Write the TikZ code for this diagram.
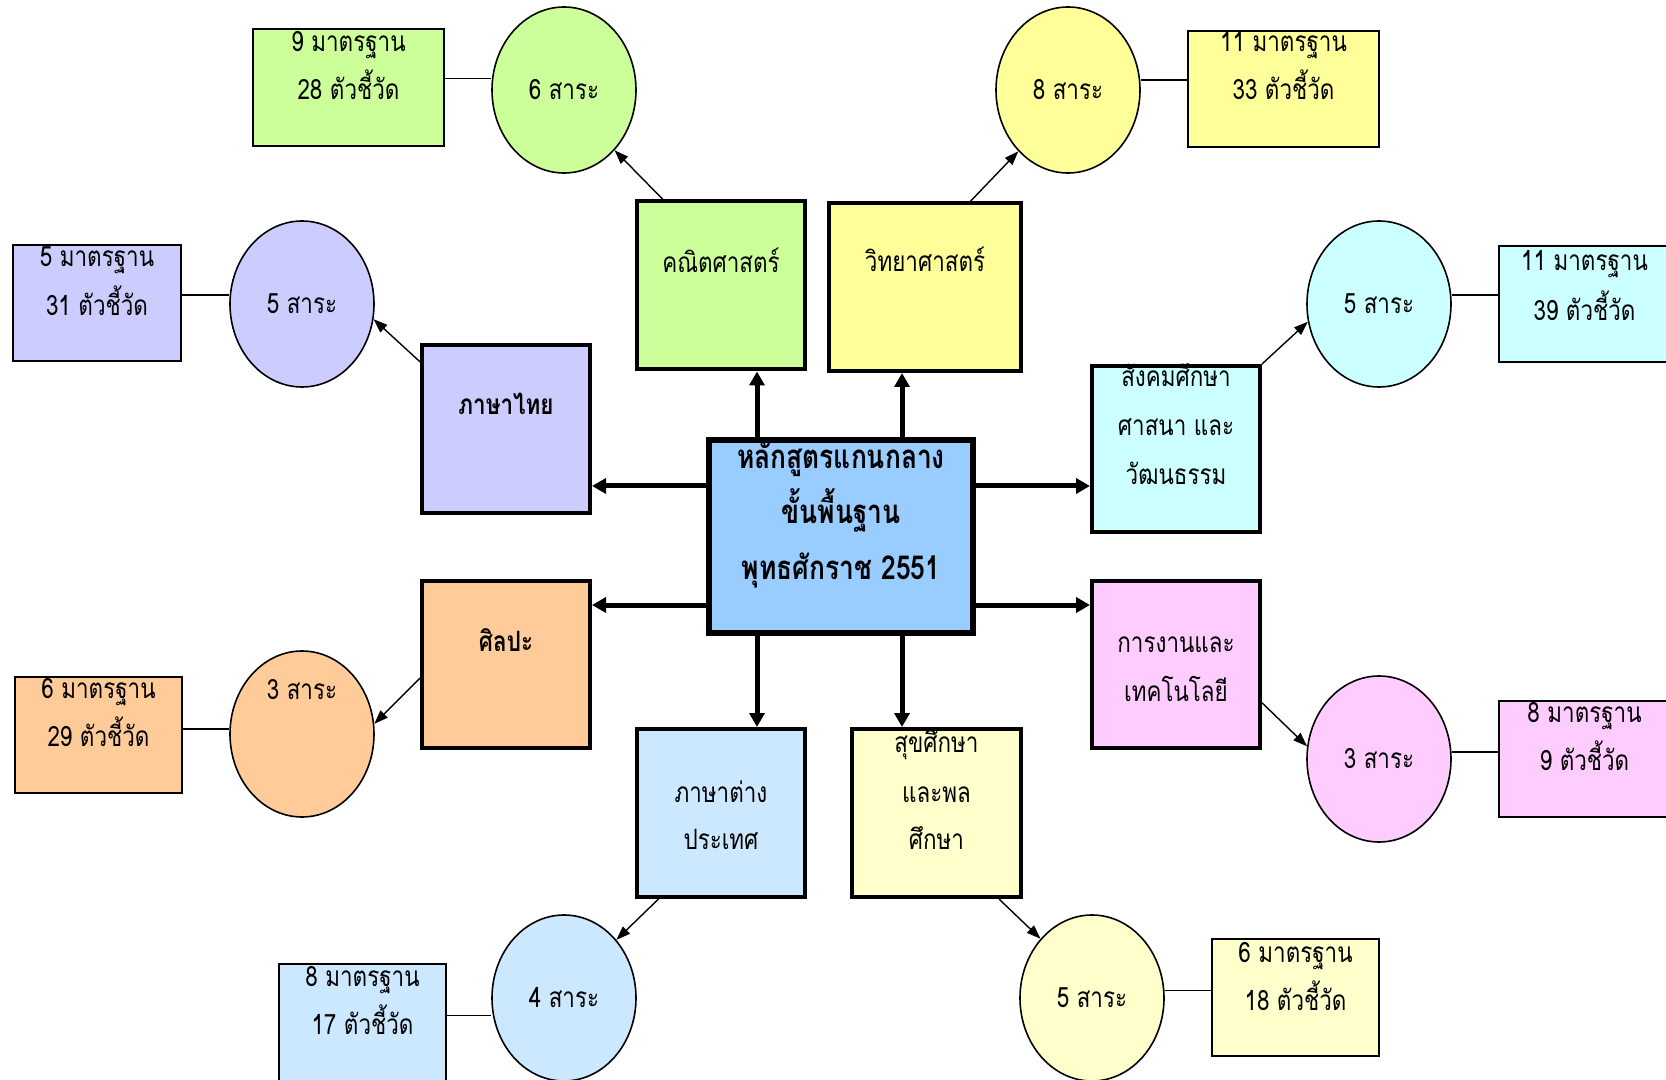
\documentclass[tikz,border=0pt]{standalone}
\usepackage{fontspec}
\newfontfamily\thaifont[Script=Thai,FakeStretch=0.8]{Loma}
\usetikzlibrary{shapes.geometric,arrows.meta,calc}
\definecolor{cMath}{HTML}{CCFF99}
\definecolor{cSci}{HTML}{FFFF99}
\definecolor{cThai}{HTML}{CCCCFF}
\definecolor{cSoc}{HTML}{CCFFFF}
\definecolor{cArts}{HTML}{FFCC99}
\definecolor{cTech}{HTML}{FFCCFF}
\definecolor{cFor}{HTML}{CCE8FF}
\definecolor{cHealth}{HTML}{FFFFCC}
\definecolor{cCenter}{HTML}{99CCFF}
\tikzset{
  subjbox/.style={draw=black, line width=2pt, rectangle, inner sep=0pt, minimum width=84pt, minimum height=84pt},
  stdbox/.style={draw=black, line width=0.8pt, rectangle, inner sep=0pt},
  ell/.style={draw=black, line width=0.8pt, ellipse, inner sep=0pt, minimum width=72pt, minimum height=83pt, font=\thaifont\fontsize{14}{16}\selectfont},
  tx/.style={inner sep=0pt, anchor=base, yshift=-6pt, font=\thaifont\fontsize{14}{16}\selectfont},
  txb/.style={inner sep=0pt, anchor=base, yshift=-6pt, font=\thaifont\bfseries\fontsize{14}{16}\selectfont},
  txc/.style={inner sep=0pt, anchor=base, yshift=-7pt, font=\thaifont\bfseries\fontsize{16.5}{18}\selectfont},
  bigarrow/.style={line width=2.5pt, -{Triangle[length=7pt,width=7.5pt]}},
  thinarrow/.style={line width=0.7pt, -{Triangle[length=7pt,width=5pt]}},
  link/.style={line width=0.8pt}
}
\begin{document}
\begin{tikzpicture}[x=0.5pt,y=-0.5pt]
\path[use as bounding box, clip] (0,0) rectangle (1666,1080);
\fill[white] (0,0) rectangle (1666,1080);

% center
\node[draw=black, line width=2.8pt, fill=cCenter, inner sep=0pt, minimum width=132pt, minimum height=96.5pt] (center) at (841,536.5) {};
\node[txc] (c1) at ($(center.north)+(0,17)$) {หลักสูตรแกนกลาง};
\node[txc] (c2) at ($(center.north)+(0,72)$) {ขั้นพื้นฐาน};
\node[txc] (c3) at ($(center.north)+(0,128)$) {พุทธศักราช 2551};

% subject boxes
\node[subjbox, fill=cMath] (mathbox) at (721,285.5) {};
\node[tx] (mathtx) at ($(mathbox.north)+(0,61)$) {คณิตศาสตร์};
\node[subjbox, fill=cSci, minimum width=96pt] (scibox) at (925,287) {};
\node[tx] (scitx) at ($(scibox.north)+(0,59)$) {วิทยาศาสตร์};
\node[subjbox, fill=cThai] (thaibox) at (506,429) {};
\node[txb] (thaitx) at ($(thaibox.north)+(0,60)$) {ภาษาไทย};
\node[subjbox, fill=cSoc, minimum height=83pt] (socbox) at (1176,449) {};
\node[tx] (soctx1) at ($(socbox.north)+(0,11)$) {สังคมศึกษา};
\node[tx] (soctx2) at ($(socbox.north)+(0,60)$) {ศาสนา และ};
\node[tx] (soctx3) at ($(socbox.north)+(0,109)$) {วัฒนธรรม};
\node[subjbox, fill=cArts, minimum height=83.5pt] (artsbox) at (506,664.5) {};
\node[txb] (artstx) at ($(artsbox.north)+(0,60)$) {ศิลปะ};
\node[subjbox, fill=cTech, minimum height=83.5pt] (techbox) at (1176,664.5) {};
\node[tx] (techtx1) at ($(techbox.north)+(0,61)$) {การงานและ};
\node[tx] (techtx2) at ($(techbox.north)+(0,110)$) {เทคโนโลยี};
\node[subjbox, fill=cFor] (forbox) at (721,813) {};
\node[tx] (fortx1) at ($(forbox.north)+(0,63)$) {ภาษาต่าง};
\node[tx] (fortx2) at ($(forbox.north)+(0,110)$) {ประเทศ};
\node[subjbox, fill=cHealth, minimum width=84.5pt] (healthbox) at (936.5,813) {};
\node[tx] (healthtx1) at ($(healthbox.north)+(0,13)$) {สุขศึกษา};
\node[tx] (healthtx2) at ($(healthbox.north)+(0,63)$) {และพล};
\node[tx] (healthtx3) at ($(healthbox.north)+(0,110)$) {ศึกษา};

% ellipses
\node[ell, fill=cMath] (mathell) at (564,90) {6 สาระ};
\node[ell, fill=cSci] (sciell) at (1068,90) {8 สาระ};
\node[ell, fill=cThai] (thaiell) at (302,304) {5 สาระ};
\node[ell, fill=cSoc] (socell) at (1379,304) {5 สาระ};
\node[ell, fill=cArts] (artsell) at (302,734) {};
\node[tx] (artselltx) at ($(artsell.center)+(0,-47)$) {3 สาระ};
\node[ell, fill=cTech] (techell) at (1379,759) {3 สาระ};
\node[ell, fill=cFor] (forell) at (564,998) {4 สาระ};
\node[ell, fill=cHealth] (healthell) at (1092,998) {5 สาระ};

% standard boxes
\node[stdbox, fill=cMath, minimum width=95.5pt, minimum height=58.5pt] (mathstd) at (348.5,87.5) {};
\node[tx] (mathstd1) at ($(mathstd.north)+(0,11)$) {9 มาตรฐาน};
\node[tx] (mathstd2) at ($(mathstd.north)+(0,59)$) {28 ตัวชี้วัด};
\node[stdbox, fill=cSci, minimum width=95.5pt, minimum height=58pt] (scistd) at (1283.5,89) {};
\node[tx] (scistd1) at ($(scistd.north)+(0,9)$) {11 มาตรฐาน};
\node[tx] (scistd2) at ($(scistd.north)+(0,57)$) {33 ตัวชี้วัด};
\node[stdbox, fill=cThai, minimum width=84pt, minimum height=58pt] (thaistd) at (97,303) {};
\node[tx] (thaistd1) at ($(thaistd.north)+(0,10)$) {5 มาตรฐาน};
\node[tx] (thaistd2) at ($(thaistd.north)+(0,59)$) {31 ตัวชี้วัด};
\node[stdbox, fill=cSoc, minimum width=85.5pt, minimum height=58pt] (socstd) at (1584.5,304) {};
\node[tx] (socstd1) at ($(socstd.north)+(0,13)$) {11 มาตรฐาน};
\node[tx] (socstd2) at ($(socstd.north)+(0,63)$) {39 ตัวชี้วัด};
\node[stdbox, fill=cArts, minimum width=83.5pt, minimum height=58pt] (artsstd) at (98.5,735) {};
\node[tx] (artsstd1) at ($(artsstd.north)+(0,10)$) {6 มาตรฐาน};
\node[tx] (artsstd2) at ($(artsstd.north)+(0,58)$) {29 ตัวชี้วัด};
\node[stdbox, fill=cTech, minimum width=85.5pt, minimum height=58pt] (techstd) at (1584.5,759) {};
\node[tx] (techstd1) at ($(techstd.north)+(0,10)$) {8 มาตรฐาน};
\node[tx] (techstd2) at ($(techstd.north)+(0,58)$) {9 ตัวชี้วัด};
\node[stdbox, fill=cFor, minimum width=83.5pt, minimum height=60.5pt] (forstd) at (362.5,1024.5) {};
\node[tx] (forstd1) at ($(forstd.north)+(0,11)$) {8 มาตรฐาน};
\node[tx] (forstd2) at ($(forstd.north)+(0,59)$) {17 ตัวชี้วัด};
\node[stdbox, fill=cHealth, minimum width=83.5pt, minimum height=58.5pt] (healthstd) at (1295.5,997.5) {};
\node[tx] (healthstd1) at ($(healthstd.north)+(0,12)$) {6 มาตรฐาน};
\node[tx] (healthstd2) at ($(healthstd.north)+(0,60)$) {18 ตัวชี้วัด};

% thick arrows from center
\coordinate (vA) at (757,0);
\coordinate (vB) at (902,0);
\coordinate (hA) at (0,486);
\coordinate (hB) at (0,605);
\draw[bigarrow] (vA |- center.north) -- (vA |- mathbox.south);
\draw[bigarrow] (vB |- center.north) -- (vB |- scibox.south);
\draw[bigarrow] (center.west |- hA) -- (thaibox.east |- hA);
\draw[bigarrow] (center.west |- hB) -- (artsbox.east |- hB);
\draw[bigarrow] (center.east |- hA) -- (socbox.west |- hA);
\draw[bigarrow] (center.east |- hB) -- (techbox.west |- hB);
\draw[bigarrow] (vA |- center.south) -- (vA |- forbox.north);
\draw[bigarrow] (vB |- center.south) -- (vB |- healthbox.north);

% thin arrows to ellipses
\draw[thinarrow] (mathbox.124) -- (mathell.310);
\draw[thinarrow] (scibox.62) -- (sciell.231);
\draw[thinarrow] (thaibox.142.5) -- (thaiell.348);
\draw[thinarrow] (socbox.north east) -- (socell.194);
\draw[thinarrow] (artsbox.189) -- (artsell.8);
\draw[thinarrow] (techbox.336.5) -- (techell.170);
\draw[thinarrow] (forbox.234) -- (forell.48);
\draw[thinarrow] (healthbox.306) -- (healthell.131);

% links ellipse - standard
\draw[link] ([yshift=4.5pt]mathstd.east) -- ([yshift=4.5pt]mathstd.east -| mathell.west);
\draw[link] ([yshift=4.5pt]scistd.west) -- ([yshift=4.5pt]scistd.west -| sciell.east);
\draw[link] ([yshift=4pt]thaistd.east) -- ([yshift=4pt]thaistd.east -| thaiell.west);
\draw[link] ([yshift=4.5pt]socstd.west) -- ([yshift=4.5pt]socstd.west -| socell.east);
\draw[link] ([yshift=3pt]artsstd.east) -- ([yshift=3pt]artsstd.east -| artsell.west);
\draw[link] ([yshift=3.5pt]techstd.west) -- ([yshift=3.5pt]techstd.west -| techell.east);
\draw[link] ([yshift=4.5pt]forstd.east) -- ([yshift=4.5pt]forstd.east -| forell.west);
\draw[link] ([yshift=3.5pt]healthstd.west) -- ([yshift=3.5pt]healthstd.west -| healthell.east);
\end{tikzpicture}
\end{document}
